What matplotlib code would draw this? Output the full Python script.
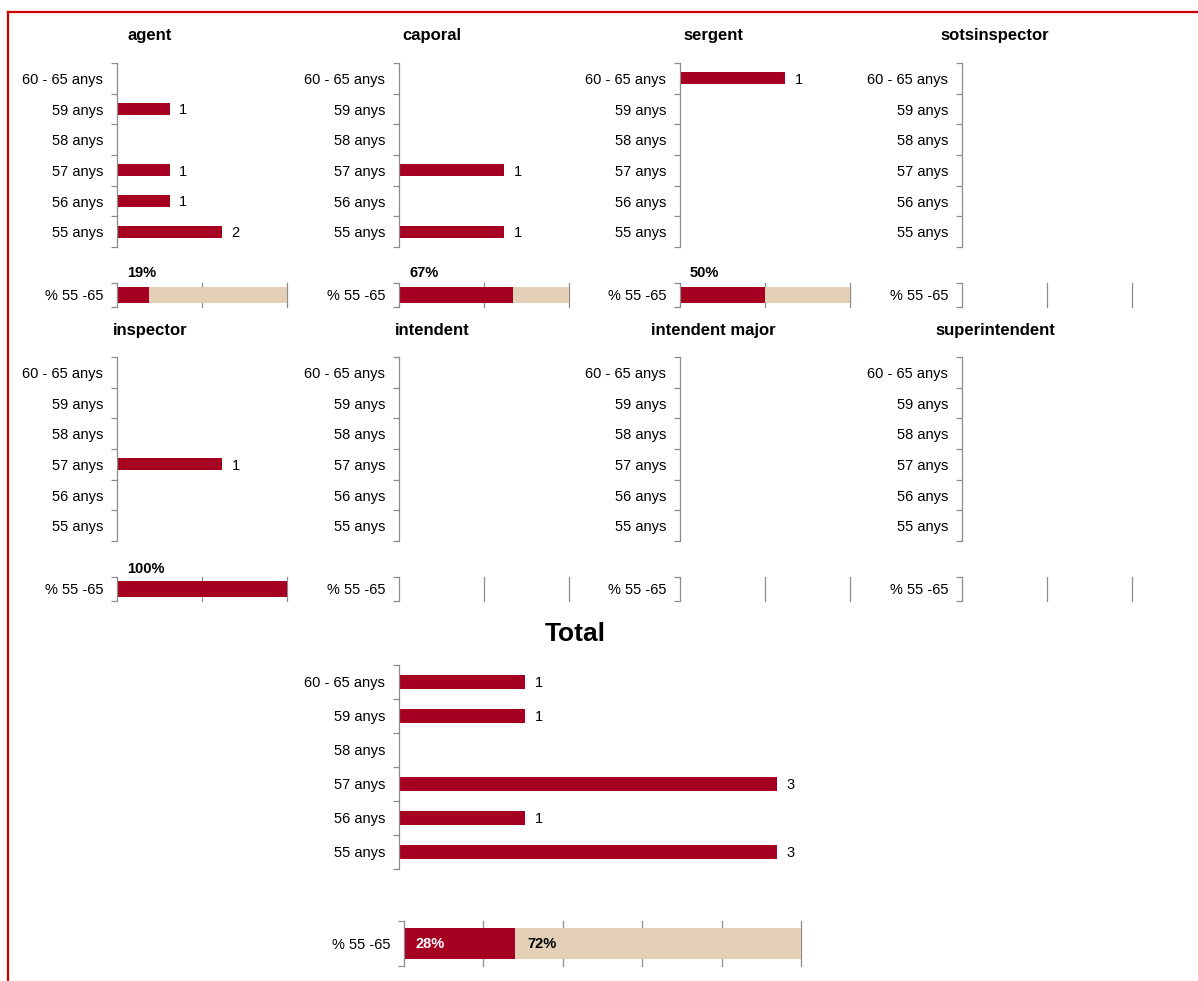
import matplotlib.pyplot as plt
import numpy as np
from matplotlib.lines import Line2D

plt.rcParams["font.family"] = ["Liberation Sans", "DejaVu Sans"]

W, H = 1198, 981
RED = "#A50021"
BEIGE = "#E3D0B7"
GREY = "#8C8C8C"

# --- data -----------------------------------------------------------------
ages = ["55 anys", "56 anys", "57 anys", "58 anys", "59 anys", "60 - 65 anys"]
ranks = ["agent", "caporal", "sergent", "sotsinspector",
         "inspector", "intendent", "intendent major", "superintendent"]
agent = [2, 1, 1, 0, 1, 0]
caporal = [1, 0, 1, 0, 0, 0]
sergent = [0, 0, 0, 0, 0, 1]
sotsinspector = [0, 0, 0, 0, 0, 0]
inspector = [0, 0, 1, 0, 0, 0]
intendent = [0, 0, 0, 0, 0, 0]
intendent_major = [0, 0, 0, 0, 0, 0]
superintendent = [0, 0, 0, 0, 0, 0]
counts = [agent, caporal, sergent, sotsinspector,
          inspector, intendent, intendent_major, superintendent]
pct_55_65 = [0.19, 0.67, 0.50, None, 1.00, None, None, None]
total = [3, 1, 3, 0, 1, 1]
pct_total = 0.28
pct_label = "% 55 -65"


def box(left, top, width, height):
    """pixel box (from top-left) -> figure fraction rect"""
    return [left / W, 1 - (top + height) / H, width / W, height / H]


def left_axis(ax, n, labels):
    for s in ("top", "right", "bottom"):
        ax.spines[s].set_visible(False)
    ax.spines["left"].set_color(GREY)
    ax.spines["left"].set_linewidth(0.9)
    ax.set_ylim(-0.5, n - 0.5)
    ax.set_yticks(range(n))
    ax.set_yticklabels(labels)
    ax.tick_params(axis="y", which="major", length=0, pad=10, labelsize=10.5)
    ax.set_yticks(np.arange(-0.5, n, 1), minor=True)
    ax.tick_params(axis="y", which="minor", length=4, color=GREY, width=0.9)


def bar_panel(ax, vals, width_px, bar_px):
    vmax = max(vals)
    ax.set_xlim(0, vmax * width_px / bar_px if vmax else 1)
    ax.barh(range(len(vals)), vals, height=0.4, color=RED)
    left_axis(ax, len(ages), ages)
    ax.set_xticks([])
    for i, v in enumerate(vals):
        if v:
            ax.annotate(str(v), (v, i), xytext=(7, -1), textcoords="offset points",
                        ha="left", va="center", fontsize=10.5)


def pct_panel(ax, p, ticks, bar_h):
    ax.set_xlim(0, 1)
    ax.set_xticks(ticks)
    ax.set_xticklabels([])
    ax.tick_params(axis="x", length=0)
    ax.grid(axis="x", color=GREY, linewidth=0.9)
    for gl in ax.get_xgridlines():
        gl.set_clip_on(False)
    ax.set_axisbelow(True)
    left_axis(ax, 1, [pct_label])
    if p is not None:
        ax.barh(0, p, height=bar_h, color=RED)
        ax.barh(0, 1 - p, left=p, height=bar_h, color=BEIGE)


fig = plt.figure(figsize=(W / 100, H / 100), dpi=100)

col_x = [117, 399, 680, 962]
rows = [(40, 63, 283, 273), (335, 357, 577, 569)]  # title baseline, bars top, pct top, pct label y
for k, rank in enumerate(ranks):
    r, c = divmod(k, 4)
    ty, bt, pt, ly = rows[r]
    x0 = col_x[c]
    fig.text((x0 + 33) / W, 1 - ty / H, rank, ha="center", va="baseline",
             fontsize=12, fontweight="bold")
    ax = fig.add_axes(box(x0, bt, 170, 184))
    bar_panel(ax, counts[k], 170, 105)
    axp = fig.add_axes(box(x0, pt, 170, 24))
    pct_panel(axp, pct_55_65[k], [0.5, 1.0], 0.67)
    if pct_55_65[k] is not None:
        fig.text((x0 + 10) / W, 1 - ly / H, f"{pct_55_65[k]:.0%}", ha="left",
                 va="center", fontsize=10.5, fontweight="bold")

# Total
fig.text(575 / W, 1 - 641 / H, "Total", ha="center", va="baseline",
         fontsize=19, fontweight="bold")
axt = fig.add_axes(box(399, 665, 400, 204))
bar_panel(axt, total, 400, 378)

axtp = fig.add_axes(box(404, 921, 397, 45))
pct_panel(axtp, pct_total, [0.2, 0.4, 0.6, 0.8, 1.0], 0.71)
axtp.text(0.028, 0, f"{pct_total:.0%}", ha="left", va="center",
          fontsize=10.5, fontweight="bold", color="white",
          transform=axtp.get_yaxis_transform())
axtp.annotate(f"{1 - pct_total:.0%}", (pct_total, 0), xytext=(9, 0),
              textcoords="offset points", ha="left", va="center",
              fontsize=10.5, fontweight="bold")

# red frame (top and left edges)
fig.add_artist(Line2D([8 / W, 1], [1 - 12 / H, 1 - 12 / H], color="#CC0000",
                      linewidth=1.6, transform=fig.transFigure))
fig.add_artist(Line2D([8 / W, 8 / W], [1 - 12 / H, 0], color="#CC0000",
                      linewidth=1.6, transform=fig.transFigure))

fig.savefig("out.png", dpi=100)
